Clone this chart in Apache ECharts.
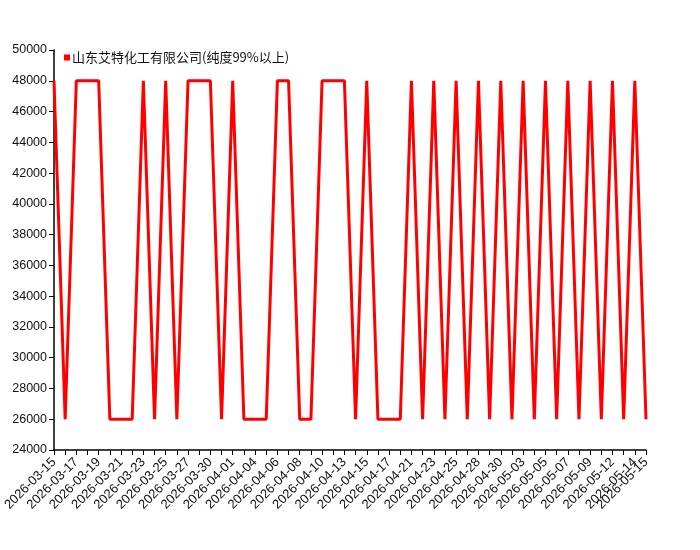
<!DOCTYPE html>
<html>
<head>
<meta charset="utf-8">
<script src="https://cdn.jsdelivr.net/npm/echarts/dist/echarts.min.js"></script>
<style>
  html, body { margin: 0; padding: 0; background: #fff; }
  #chart { width: 700px; height: 550px; }
</style>
</head>
<body>
<div id="chart"></div>
<script>
// 日期（奇数位置的日期在图上不显示，按间隔估计）
let dates = [
    '2026-03-15', '2026-03-16', '2026-03-17', '2026-03-18', '2026-03-19', '2026-03-20',
    '2026-03-21', '2026-03-22', '2026-03-23', '2026-03-24', '2026-03-25', '2026-03-26',
    '2026-03-27', '2026-03-28', '2026-03-30', '2026-03-31', '2026-04-01', '2026-04-02',
    '2026-04-04', '2026-04-05', '2026-04-06', '2026-04-07', '2026-04-08', '2026-04-09',
    '2026-04-10', '2026-04-11', '2026-04-13', '2026-04-14', '2026-04-15', '2026-04-16',
    '2026-04-17', '2026-04-19', '2026-04-21', '2026-04-22', '2026-04-23', '2026-04-24',
    '2026-04-25', '2026-04-26', '2026-04-28', '2026-04-29', '2026-04-30', '2026-05-01',
    '2026-05-03', '2026-05-04', '2026-05-05', '2026-05-06', '2026-05-07', '2026-05-08',
    '2026-05-09', '2026-05-10', '2026-05-12', '2026-05-13', '2026-05-14', '2026-05-15'
];

let seriesName = '山东艾特化工有限公司(纯度99%以上)';

let prices = [
    48000, 26000, 48000, 48000, 48000, 26000, 26000, 26000, 48000, 26000,
    48000, 26000, 48000, 48000, 48000, 26000, 48000, 26000, 26000, 26000,
    48000, 48000, 26000, 26000, 48000, 48000, 48000, 26000, 48000, 26000,
    26000, 26000, 48000, 26000, 48000, 26000, 48000, 26000, 48000, 26000,
    48000, 26000, 48000, 26000, 48000, 26000, 48000, 26000, 48000, 26000,
    48000, 26000, 48000, 26000
];

let yMin = 24000;
let yMax = 50000;
let yStep = 2000;

let myChart = echarts.init(document.getElementById('chart'));
let font = '"Liberation Sans", "Noto Sans CJK SC", sans-serif';
let last = dates.length - 1;

let labelStyle = {
    rotate: 45,
    margin: 10,
    fontSize: 13,
    fontFamily: font,
    color: '#111'
};

let option = {
    animation: false,
    backgroundColor: '#fff',
    grid: {
        left: 54,
        right: 54,
        top: 50,
        bottom: 100
    },
    legend: {
        data: [seriesName],
        left: 59,
        top: 46,
        icon: 'rect',
        itemWidth: 6,
        itemHeight: 6,
        textStyle: {
            fontFamily: '"Noto Sans CJK SC", sans-serif',
            fontSize: 13,
            color: '#111',
            padding: [0, 0, 0, -3]
        }
    },
    xAxis: [
        {
            type: 'category',
            boundaryGap: false,
            data: dates,
            axisLine: { lineStyle: { color: '#000', width: 1.5 } },
            axisTick: { interval: 0, length: 5, lineStyle: { color: '#000' } },
            axisLabel: Object.assign({}, labelStyle, {
                showMinLabel: true,
                showMaxLabel: true,
                interval: function (i) {
                    return i % 2 === 0;
                }
            }),
            splitLine: { show: false }
        },
        {
            // 只用来画最后一个日期标签（和前一个重叠，主轴会把它藏掉）
            type: 'category',
            position: 'bottom',
            boundaryGap: false,
            data: dates,
            axisLine: { show: false },
            axisTick: { show: false },
            axisLabel: Object.assign({}, labelStyle, {
                showMaxLabel: true,
                interval: function (i) {
                    return i === last;
                }
            }),
            splitLine: { show: false }
        }
    ],
    yAxis: {
        type: 'value',
        min: yMin,
        max: yMax,
        interval: yStep,
        axisLine: { show: true, lineStyle: { color: '#000', width: 1.5 } },
        axisTick: { show: true, length: 5, lineStyle: { color: '#000' } },
        axisLabel: {
            margin: 7,
            fontSize: 12.5,
            fontFamily: font,
            color: '#111',
            formatter: function (v) {
                return String(v);
            }
        },
        splitLine: { show: false }
    },
    series: [
        {
            name: seriesName,
            type: 'line',
            xAxisIndex: 0,
            data: prices,
            symbol: 'none',
            color: '#ff0000',
            lineStyle: { color: '#ff0000', width: 3 }
        }
    ]
};

myChart.setOption(option);
</script>
</body>
</html>
